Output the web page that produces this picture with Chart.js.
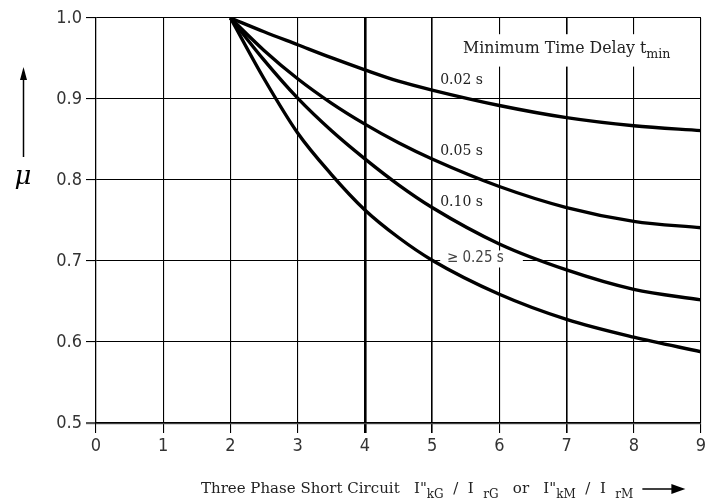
<!DOCTYPE html>
<html>
<head>
<meta charset="utf-8">
<script src="https://cdn.jsdelivr.net/npm/chart.js@4/dist/chart.umd.min.js"></script>
<style>
  html, body { margin: 0; padding: 0; background: #fff; }
  #chart { display: block; }
</style>
</head>
<body>
<canvas id="chart" width="706" height="501"></canvas>
<script>
// values (mu vs. I"k / Ir)
const ratios = [2, 2.5, 3, 3.5, 4, 4.5, 5, 6, 7, 8, 9];
const mu002 = [1.0, 0.983, 0.967, 0.951, 0.936, 0.922, 0.911, 0.892, 0.877, 0.867, 0.861];
const mu005 = [1.0, 0.960, 0.925, 0.895, 0.869, 0.846, 0.826, 0.792, 0.766, 0.749, 0.741];
const mu010 = [1.0, 0.948, 0.901, 0.861, 0.826, 0.794, 0.766, 0.721, 0.689, 0.665, 0.652];
const mu025 = [1.0, 0.925, 0.858, 0.807, 0.763, 0.729, 0.701, 0.659, 0.628, 0.606, 0.588];
const seriesNames = ['0.02 s', '0.05 s', '0.10 s', '\u2265 0.25 s'];

const serif = "'DejaVu Serif', 'Liberation Serif', serif";
const sans = "'Liberation Sans Narrow', 'DejaVu Sans Condensed', 'Liberation Sans', sans-serif";

function pts(ys) {
  return ratios.map((x, i) => ({ x, y: ys[i] }));
}

// draws text runs, some as subscripts
function drawRuns(ctx, runs, x, y, size) {
  ctx.textBaseline = 'alphabetic';
  ctx.textAlign = 'left';
  runs.forEach(r => {
    const s = r.sub ? size * 0.8 : size;
    ctx.font = s + 'px ' + serif;
    ctx.fillText(r.t, x, r.sub ? y + size * 0.3 : y);
    x += ctx.measureText(r.t).width;
  });
  return x;
}

const labelBoxes = {
  id: 'labelBoxes',
  beforeDatasetsDraw(chart) {
    const { ctx, scales: { x, y } } = chart;
    ctx.save();
    ctx.fillStyle = '#fff';
    // white patches behind the in-plot labels
    ctx.fillRect(x.getPixelForValue(5.3), y.getPixelForValue(0.98), x.getPixelForValue(8.9) - x.getPixelForValue(5.3), y.getPixelForValue(0.94) - y.getPixelForValue(0.98));
    ctx.fillRect(x.getPixelForValue(5.12), y.getPixelForValue(0.713), x.getPixelForValue(6.35) - x.getPixelForValue(5.12), y.getPixelForValue(0.692) - y.getPixelForValue(0.713));
    ctx.restore();
  },
  afterDraw(chart) {
    const { ctx, scales: { x, y } } = chart;
    ctx.save();
    ctx.fillStyle = '#222';

    // legend title
    drawRuns(ctx, [{ t: 'Minimum Time Delay t' }, { t: 'min', sub: true }],
      x.getPixelForValue(5.46), y.getPixelForValue(0.957), 15.8);

    // curve labels
    ctx.font = '14px ' + serif;
    ctx.textBaseline = 'middle';
    ctx.fillText(seriesNames[0], x.getPixelForValue(5.12), y.getPixelForValue(0.9226));
    ctx.fillText(seriesNames[1], x.getPixelForValue(5.12), y.getPixelForValue(0.835));
    ctx.fillText(seriesNames[2], x.getPixelForValue(5.12), y.getPixelForValue(0.773));
    ctx.font = '15px ' + sans;
    ctx.fillStyle = '#444';
    ctx.fillText(seriesNames[3], x.getPixelForValue(5.22), y.getPixelForValue(0.703));

    // x axis title with subscripts
    ctx.fillStyle = '#222';
    const by = 493;
    let ex = drawRuns(ctx, [
      { t: 'Three Phase Short Circuit   I"' }, { t: 'kG', sub: true },
      { t: '  /  I  ' }, { t: 'rG', sub: true },
      { t: '   or   I"' }, { t: 'kM', sub: true },
      { t: '  /  I  ' }, { t: 'rM', sub: true }
    ], 201, by, 15);
    // arrow
    const ay = by - 4;
    ctx.strokeStyle = '#000';
    ctx.lineWidth = 1.5;
    ctx.beginPath();
    ctx.moveTo(ex + 9, ay);
    ctx.lineTo(ex + 40, ay);
    ctx.stroke();
    ctx.fillStyle = '#000';
    ctx.beginPath();
    ctx.moveTo(ex + 52, ay);
    ctx.lineTo(ex + 38, ay - 5);
    ctx.lineTo(ex + 38, ay + 5);
    ctx.closePath();
    ctx.fill();

    // y axis symbol and arrow
    ctx.beginPath();
    ctx.moveTo(23.5, 157);
    ctx.lineTo(23.5, 80);
    ctx.stroke();
    ctx.beginPath();
    ctx.moveTo(23.5, 67);
    ctx.lineTo(20, 80);
    ctx.lineTo(27, 80);
    ctx.closePath();
    ctx.fill();
    ctx.font = 'italic 26px ' + serif;
    ctx.textAlign = 'center';
    ctx.textBaseline = 'alphabetic';
    ctx.fillText('\u03BC', 23, 184);
    ctx.restore();
  }
};

const lineStyle = {
  borderColor: '#000',
  borderWidth: 3.4,
  pointRadius: 0,
  fill: false,
  cubicInterpolationMode: 'monotone'
};

new Chart(document.getElementById('chart'), {
  type: 'line',
  data: {
    datasets: [
      { label: seriesNames[0], data: pts(mu002), ...lineStyle },
      { label: seriesNames[1], data: pts(mu005), ...lineStyle },
      { label: seriesNames[2], data: pts(mu010), ...lineStyle },
      { label: seriesNames[3], data: pts(mu025), ...lineStyle }
    ]
  },
  options: {
    responsive: false,
    animation: false,
    layout: { padding: { top: 18, right: 5, left: 0, bottom: 0 } },
    plugins: {
      legend: { display: false },
      tooltip: { enabled: false }
    },
    scales: {
      x: {
        type: 'linear',
        min: 0,
        max: 9,
        afterFit: s => { s.height = 78; s.paddingLeft = 0; s.paddingRight = 0; },
        ticks: { stepSize: 1, color: '#333', padding: 3, font: { family: sans, size: 18 } },
        grid: {
          color: '#000',
          lineWidth: c => (c.tick && c.tick.value === 4 ? 2.6 : (c.tick && (c.tick.value === 5 || c.tick.value === 7) ? 1.6 : 1.1)),
          tickLength: 10
        },
        border: { color: '#000', width: 1.2 }
      },
      y: {
        min: 0.5,
        max: 1.0,
        afterFit: s => { s.width = 96; s.paddingTop = 0; s.paddingBottom = 0; },
        ticks: {
          stepSize: 0.1,
          color: '#333',
          padding: 4,
          font: { family: sans, size: 18 },
          callback: v => v.toFixed(1)
        },
        grid: {
          color: c => (c.tick && c.tick.value === 0.5 ? '#555' : '#000'),
          lineWidth: c => (c.tick && c.tick.value === 0.5 ? 2.2 : 1.1),
          tickLength: 10
        },
        border: { color: '#000', width: 1.2 }
      }
    }
  },
  plugins: [labelBoxes]
});
</script>
</body>
</html>
